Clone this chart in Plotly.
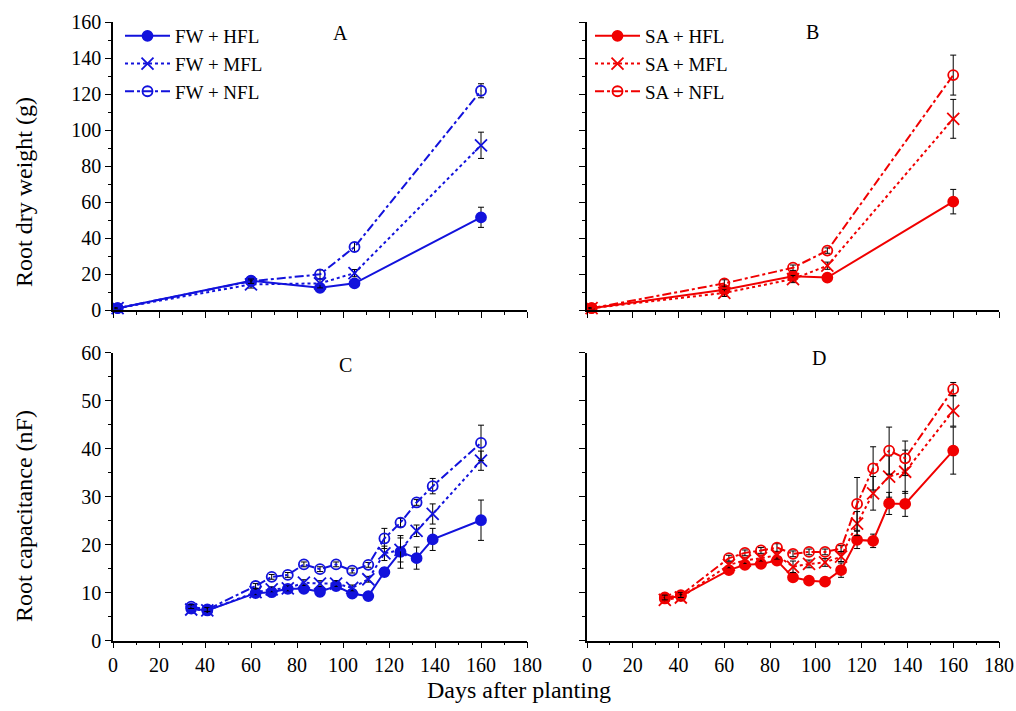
import plotly.graph_objects as go

# ---------------- data ----------------
days_ab = [2, 60, 90, 105, 160]
a_hfl = [1, 16.3, 12.3, 14.8, 51.5]
a_hfl_err = [0.3, 1.2, 1.5, 1.5, 5.6]
a_mfl = [1, 14.2, 14.8, 20.5, 91.5]
a_mfl_err = [0.3, 2.0, 2.5, 2.0, 7.3]
a_nfl = [1, 16.0, 19.8, 35.0, 121.8]
a_nfl_err = [0.3, 1.2, 2.5, 2.5, 3.9]

b_hfl = [1, 11.2, 18.8, 18.0, 60.2]
b_hfl_err = [0.3, 2.0, 1.5, 1.0, 6.8]
b_mfl = [1, 9.5, 17.2, 24.6, 106.2]
b_mfl_err = [0.3, 2.0, 2.0, 2.0, 10.8]
b_nfl = [1, 14.8, 23.5, 33.0, 130.5]
b_nfl_err = [0.3, 2.0, 1.5, 1.5, 11.1]

days_cd = [34, 41, 62, 69, 76, 83, 90, 97, 104, 111, 118, 125, 132, 139, 160]
c_hfl = [6.7, 6.3, 9.9, 10.1, 10.8, 10.8, 10.2, 11.4, 9.8, 9.3, 14.3, 18.5, 17.2, 21.1, 25.1]
c_hfl_err = [0.5, 0.4, 0.5, 0.6, 0.5, 0.6, 1.0, 0.8, 0.6, 0.5, 0.9, 3.4, 2.3, 2.3, 4.2]
c_mfl = [6.5, 6.3, 10.1, 10.7, 10.9, 12.1, 11.9, 11.9, 11.0, 12.8, 18.2, 18.9, 22.9, 26.4, 37.5]
c_mfl_err = [0.4, 0.4, 0.5, 0.5, 0.5, 0.6, 0.6, 0.6, 0.6, 0.6, 1.5, 2.5, 1.2, 2.1, 2.0]
c_nfl = [7.1, 6.5, 11.4, 13.3, 13.7, 15.9, 14.9, 15.9, 14.6, 15.8, 21.3, 24.6, 28.8, 32.2, 41.2]
c_nfl_err = [0.4, 0.4, 0.5, 0.5, 0.5, 0.5, 0.5, 0.5, 0.5, 0.5, 2.1, 0.9, 0.6, 1.6, 3.7]

d_hfl = [8.8, 9.3, 14.7, 15.8, 16.0, 16.7, 13.2, 12.5, 12.3, 14.7, 21.0, 20.8, 28.6, 28.5, 39.6]
d_hfl_err = [0.5, 0.5, 0.6, 0.6, 0.6, 0.6, 0.8, 0.5, 0.5, 1.5, 1.8, 1.4, 2.3, 2.6, 4.9]
d_mfl = [8.5, 9.0, 15.8, 16.7, 17.2, 17.8, 15.4, 16.0, 16.3, 17.5, 24.4, 30.7, 34.2, 35.2, 47.9]
d_mfl_err = [0.5, 0.6, 0.6, 0.6, 0.6, 0.8, 1.2, 0.8, 0.8, 1.0, 2.5, 3.5, 4.3, 4.5, 3.2]
d_nfl = [9.0, 9.5, 17.2, 18.3, 18.8, 19.4, 18.1, 18.5, 18.5, 19.2, 28.5, 35.9, 39.6, 38.0, 52.4]
d_nfl_err = [0.5, 0.5, 0.6, 0.6, 0.6, 0.8, 0.6, 0.6, 0.6, 0.6, 5.5, 4.5, 4.9, 3.6, 1.4]

x_ticks = [0, 20, 40, 60, 80, 100, 120, 140, 160, 180]

BLUE = "#1212DC"
RED = "#F00000"
FONT = "Liberation Serif"

fig = go.Figure()

styles = {
    "HFL": dict(dash="solid", symbol="circle", size=10),
    "MFL": dict(dash="dot", symbol="x-thin-open", size=12),
    "NFL": dict(dash="dashdot", symbol="circle-open", size=10),
}


def add(x, y, err, kind, color, name, xa, ya, legend=None, show=False):
    st = styles[kind]
    fig.add_trace(go.Scatter(
        x=x, y=y, name=name, mode="lines+markers",
        xaxis=xa, yaxis=ya,
        line=dict(color=color, width=2, dash=st["dash"]),
        marker=dict(symbol=st["symbol"], size=st["size"], color=color,
                    line=dict(color=color, width=1.8)),
        error_y=dict(type="data", array=err, color="black", thickness=1, width=3),
        showlegend=show, legend=legend if legend else "legend",
        cliponaxis=False,
    ))


add(days_ab, a_hfl, a_hfl_err, "HFL", BLUE, "FW + HFL", "x", "y", "legend", True)
add(days_ab, a_mfl, a_mfl_err, "MFL", BLUE, "FW + MFL", "x", "y", "legend", True)
add(days_ab, a_nfl, a_nfl_err, "NFL", BLUE, "FW + NFL", "x", "y", "legend", True)

add(days_ab, b_hfl, b_hfl_err, "HFL", RED, "SA + HFL", "x2", "y2", "legend2", True)
add(days_ab, b_mfl, b_mfl_err, "MFL", RED, "SA + MFL", "x2", "y2", "legend2", True)
add(days_ab, b_nfl, b_nfl_err, "NFL", RED, "SA + NFL", "x2", "y2", "legend2", True)

add(days_cd, c_hfl, c_hfl_err, "HFL", BLUE, "FW + HFL", "x3", "y3")
add(days_cd, c_mfl, c_mfl_err, "MFL", BLUE, "FW + MFL", "x3", "y3")
add(days_cd, c_nfl, c_nfl_err, "NFL", BLUE, "FW + NFL", "x3", "y3")

add(days_cd, d_hfl, d_hfl_err, "HFL", RED, "SA + HFL", "x4", "y4")
add(days_cd, d_mfl, d_mfl_err, "MFL", RED, "SA + MFL", "x4", "y4")
add(days_cd, d_nfl, d_nfl_err, "NFL", RED, "SA + NFL", "x4", "y4")

W, H = 1016, 711
xl = [113 / W, 527 / W]
xr = [587 / W, 999 / W]
yt = [(H - 310) / H, (H - 22) / H]
yb = [(H - 640.7) / H, (H - 352.7) / H]

tickfont = dict(family=FONT, size=20, color="black")


def xaxis(domain, anchor, labels):
    return dict(domain=domain, anchor=anchor, range=[0, 180], tickmode="array",
                tickvals=x_ticks, ticktext=[str(v) for v in x_ticks],
                showticklabels=labels,
                ticks="outside", ticklen=6, tickwidth=1.2, tickcolor="black",
                minor=dict(ticks="outside", ticklen=3, tickwidth=1.2, tickcolor="black", dtick=10, showgrid=False),
                showline=True, linecolor="black", linewidth=1.5, showgrid=False, zeroline=False,
                tickfont=tickfont, automargin=False)


def yaxis(domain, anchor, rng, dtick, mdtick, labels):
    return dict(domain=domain, anchor=anchor, range=rng, dtick=dtick, tick0=0,
                showticklabels=labels,
                ticks="outside", ticklen=6, tickwidth=1.2, tickcolor="black",
                minor=dict(ticks="outside", ticklen=3, tickwidth=1.2, tickcolor="black", dtick=mdtick, showgrid=False),
                showline=True, linecolor="black", linewidth=1.5, showgrid=False, zeroline=False,
                tickfont=tickfont, automargin=False)


leg_common = dict(bgcolor="rgba(0,0,0,0)", font=dict(family=FONT, size=19, color="black"),
                  tracegroupgap=0, itemwidth=45, xanchor="left", yanchor="top", traceorder="normal")

fig.update_layout(
    width=W, height=H,
    autosize=False,
    margin=dict(l=0, r=0, t=0, b=0, pad=0, autoexpand=False),
    paper_bgcolor="white", plot_bgcolor="white",
    font=dict(family=FONT, color="black"),
    xaxis=xaxis(xl, "y", False),
    yaxis=yaxis(yt, "x", [0, 160], 20, 10, True),
    xaxis2=xaxis(xr, "y2", False),
    yaxis2=yaxis(yt, "x2", [0, 160], 20, 10, False),
    xaxis3=xaxis(xl, "y3", True),
    yaxis3=yaxis(yb, "x3", [0, 60], 10, 5, True),
    xaxis4=xaxis(xr, "y4", True),
    yaxis4=yaxis(yb, "x4", [0, 60], 10, 5, False),
    legend=dict(x=120 / W, y=1 - 17 / H, **leg_common),
    legend2=dict(x=590 / W, y=1 - 17 / H, **leg_common),
)

ann_font = dict(family=FONT, size=20, color="black")
for txt, px, py in [("A", 340, 33), ("B", 812, 32), ("C", 345, 365), ("D", 819, 358)]:
    fig.add_annotation(text=txt, x=px / W, y=1 - py / H, xref="paper", yref="paper",
                       showarrow=False, font=ann_font, xanchor="center", yanchor="middle")

title_font = dict(family=FONT, size=24, color="black")
fig.add_annotation(text="Root dry weight (g)", x=24 / W, y=1 - 192 / H, xref="paper", yref="paper",
                   showarrow=False, textangle=-90, font=title_font, xanchor="center", yanchor="middle")
fig.add_annotation(text="Root capacitance (nF)", x=24 / W, y=1 - 516 / H, xref="paper", yref="paper",
                   showarrow=False, textangle=-90, font=title_font, xanchor="center", yanchor="middle")
fig.add_annotation(text="Days after planting", x=519 / W, y=1 - 690 / H, xref="paper", yref="paper",
                   showarrow=False, font=title_font, xanchor="center", yanchor="middle")

fig.write_html("out.html",
               config={"displayModeBar": False},
               post_script="document.body.style.margin='0';document.body.style.overflow='hidden';")
